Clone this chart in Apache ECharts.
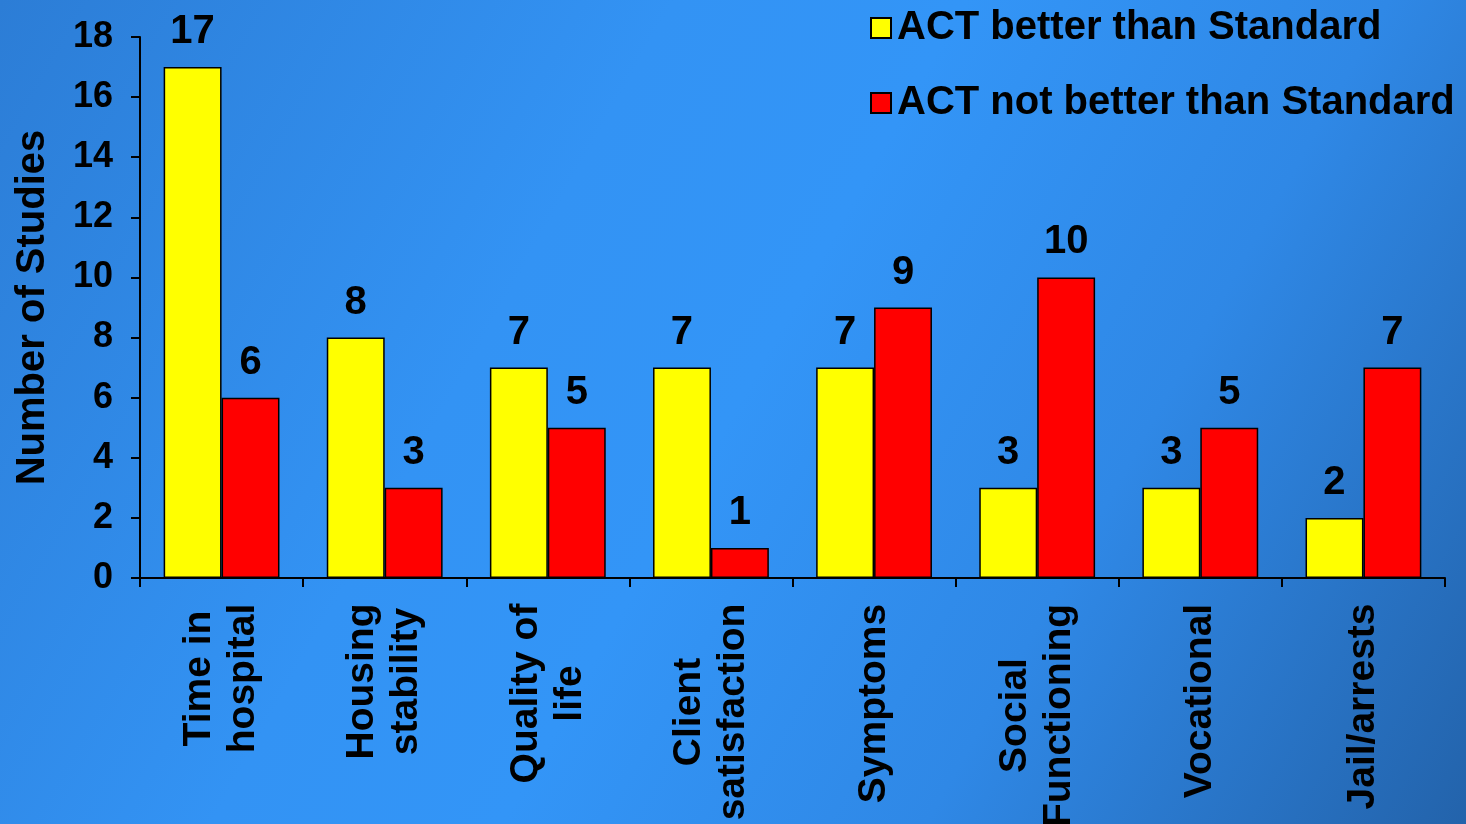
<!DOCTYPE html>
<html>
<head>
<meta charset="utf-8">
<script src="https://cdn.jsdelivr.net/npm/echarts@6/dist/echarts.min.js"></script>
<style>
html,body{margin:0;padding:0;width:1466px;height:824px;overflow:hidden;}
#chart{width:1466px;height:824px;}
</style>
</head>
<body>
<div id="chart"></div>
<script>
const categories = ["Time in\nhospital", "Housing\nstability", "Quality of\nlife", "Client\nsatisfaction", "Symptoms", "Social\nFunctioning", "Vocational", "Jail/arrests"];
const seriesNames = ["ACT better than Standard", "ACT not better than Standard"];
const better = [17, 8, 7, 7, 7, 3, 3, 2];
const notBetter = [6, 3, 5, 1, 9, 10, 5, 7];
const yTicks = {min: 0, max: 18, interval: 2};

const FONT = '"Liberation Sans", Arial, Helvetica, sans-serif';
const XFS = 39;
// measure longest line of each category label so lines can be centred within the label block
const ctx = document.createElement('canvas').getContext('2d');
ctx.font = 'bold ' + XFS + 'px ' + FONT;
const rich = {};
categories.forEach((c, i) => {
  const w = Math.max(...c.split('\n').map(l => ctx.measureText(l).width));
  rich['c' + i] = {width: Math.ceil(w) + 1, align: 'center', fontFamily: FONT, fontWeight: 'bold', fontSize: XFS, lineHeight: 44, color: '#000'};
});

const chart = echarts.init(document.getElementById('chart'));
const labelStyle = {
  show: true, position: 'top', distance: 15,
  fontFamily: FONT, fontWeight: 'bold', fontSize: 40, color: '#000'
};
chart.setOption({
  backgroundColor: {
    type: 'linear', x: 0, y: 0, x2: 1, y2: 1,
    colorStops: [
      {offset: 0, color: '#2c7dd6'},
      {offset: 0.35, color: '#3393f4'},
      {offset: 0.5, color: '#3395f7'},
      {offset: 0.72, color: '#2f88e6'},
      {offset: 1, color: '#2363ab'}
    ]
  },
  animation: false,
  textStyle: {fontFamily: FONT},
  legend: {
    orient: 'vertical',
    left: 865, top: 3,
    itemWidth: 20, itemHeight: 20, itemGap: 35,
    icon: 'rect',
    textStyle: {fontFamily: FONT, fontWeight: 'bold', fontSize: 40, color: '#000', lineHeight: 40, padding: [0, 0, 0, 1]},
    data: seriesNames
  },
  grid: {left: 140, right: 21, top: 37, bottom: 246, containLabel: false, outerBoundsMode: 'none'},
  xAxis: {
    type: 'category',
    data: categories,
    axisLine: {lineStyle: {color: '#000', width: 2}},
    axisTick: {show: true, length: 9, lineStyle: {color: '#000', width: 2}},
    axisLabel: {
      rotate: 90, interval: 0, margin: 25,
      fontFamily: FONT, fontWeight: 'bold', fontSize: XFS, lineHeight: 44, color: '#000',
      formatter: (v, i) => v.split('\n').map(l => '{c' + i + '|' + l + '}').join('\n'),
      rich: rich
    }
  },
  yAxis: {
    type: 'value',
    min: yTicks.min, max: yTicks.max, interval: yTicks.interval,
    name: 'Number of Studies',
    nameLocation: 'middle', nameRotate: 90, nameGap: 87,
    nameTextStyle: {fontFamily: FONT, fontWeight: 'bold', fontSize: 40, color: '#000'},
    axisLine: {show: true, lineStyle: {color: '#000', width: 2}},
    axisTick: {show: true, length: 9, lineStyle: {color: '#000', width: 2}},
    splitLine: {show: false},
    axisLabel: {margin: 27, fontFamily: FONT, fontWeight: 'bold', fontSize: 36, color: '#000'}
  },
  series: [
    {
      name: seriesNames[0], type: 'bar', data: better,
      barGap: '0%', barCategoryGap: '29%',
      itemStyle: {color: '#ffff00', borderColor: '#000', borderWidth: 1.5},
      label: labelStyle
    },
    {
      name: seriesNames[1], type: 'bar', data: notBetter,
      itemStyle: {color: '#ff0000', borderColor: '#000', borderWidth: 1.5},
      label: labelStyle
    }
  ]
});
</script>
</body>
</html>
